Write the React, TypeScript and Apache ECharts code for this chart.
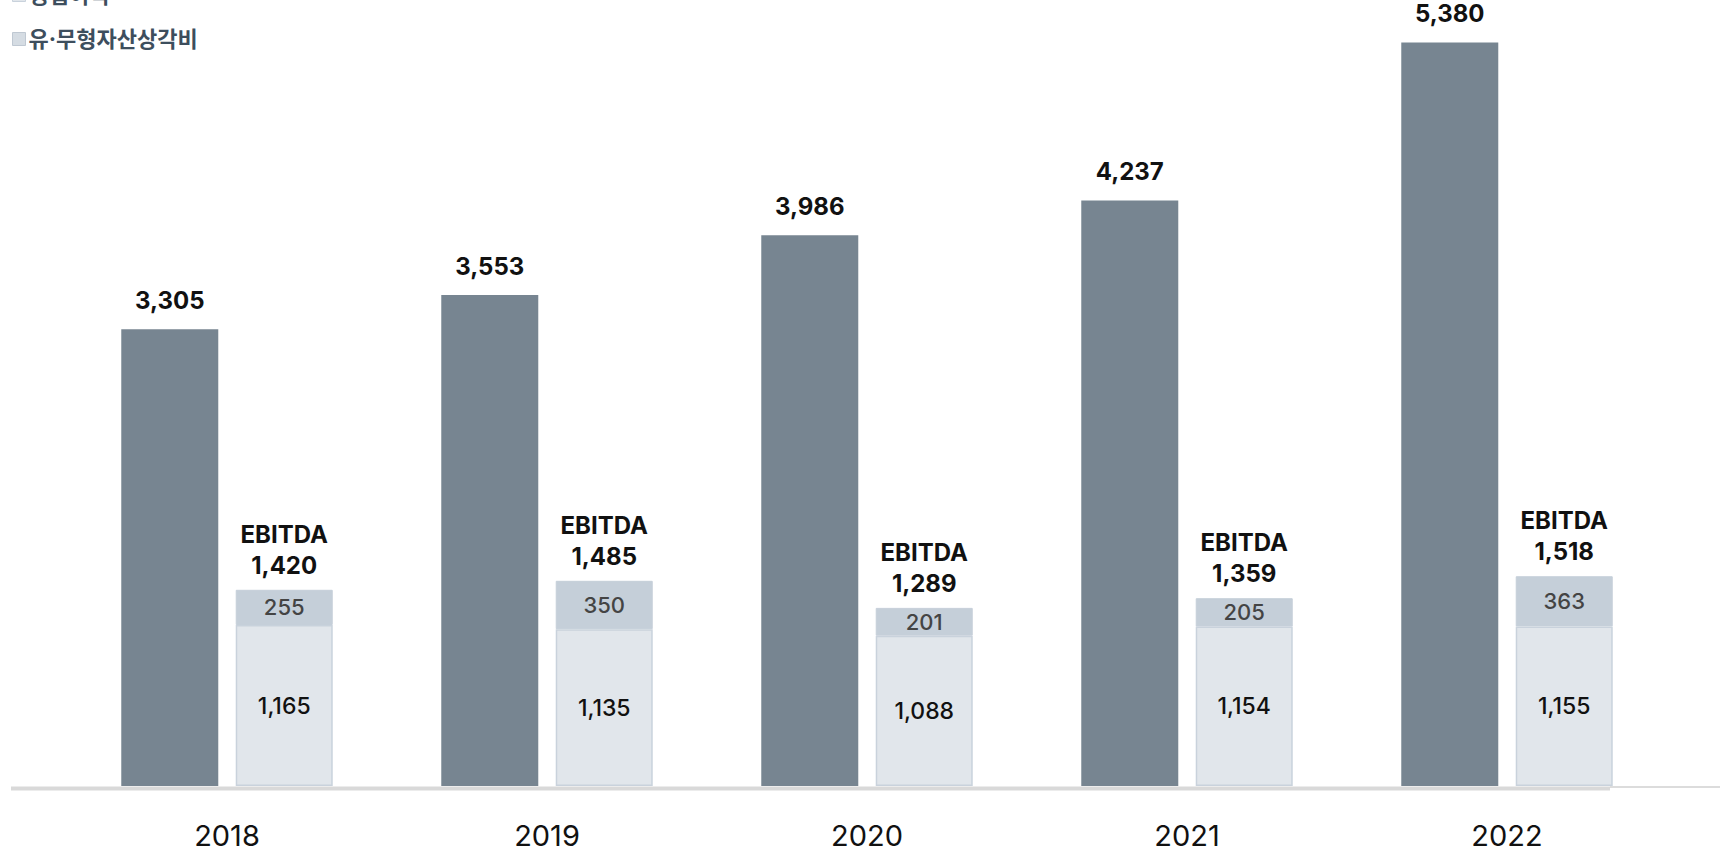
import React, { useEffect, useRef } from "react";
import * as echarts from "echarts";

const years = ["2018", "2019", "2020", "2021", "2022"];
const revenue = [3305, 3553, 3986, 4237, 5380];
const operatingProfit = [1165, 1135, 1088, 1154, 1155];
const depreciation = [255, 350, 201, 205, 363];
const ebitda = [1420, 1485, 1289, 1359, 1518];
const ebitdaAnchor = [0, 0, 0, 0, 0];

const FONT = "Inter, 'Noto Sans CJK KR', 'Noto Sans', sans-serif";
const fmt = (v: number) => v.toLocaleString("en-US");

export default function App() {
  const ref = useRef<HTMLDivElement>(null);
  useEffect(() => {
    if (!ref.current) return;
    const chart = echarts.init(ref.current, null, { renderer: "svg" });
    chart.setOption({
      animation: false,
      textStyle: { fontFamily: FONT },
      grid: { left: 67, right: 53, top: 26, bottom: 71, containLabel: false },
      legend: [
        {
          orient: "vertical",
          left: 12,
          top: -16,
          padding: 0,
          icon: "rect",
          itemWidth: 13,
          itemHeight: 13,
          selectedMode: false,
          data: [
            { name: "영업이익", itemStyle: { color: "#e1e6eb", borderColor: "#c9d2dc", borderWidth: 1 } },
          ],
          textStyle: { fontFamily: FONT, fontSize: 22, fontWeight: "bold", color: "#3d4e5d", padding: [0, 0, 0, -2] },
        },
        {
          orient: "vertical",
          left: 12,
          top: 28,
          padding: 0,
          icon: "rect",
          itemWidth: 13,
          itemHeight: 13,
          selectedMode: false,
          data: [
            { name: "유·무형자산상각비", itemStyle: { color: "#d5dce3", borderColor: "#bfc8d2", borderWidth: 1 } },
          ],
          textStyle: { fontFamily: FONT, fontSize: 22, fontWeight: "bold", color: "#3d4e5d", padding: [0, 0, 0, -2] },
        },
      ],
      xAxis: {
        type: "category",
        data: years,
        axisLine: { show: false },
        axisTick: { show: false },
        axisLabel: { margin: 35, fontSize: 29, color: "#111111", fontFamily: FONT },
      },
      yAxis: { type: "value", min: 0, max: 5500, show: false, splitLine: { show: false } },
      graphic: [
        {
          type: "line",
          z: 0,
          shape: { x1: 11, y1: 788.5, x2: 1610, y2: 788.5 },
          style: { stroke: "#d9d9d9", lineWidth: 4 },
        },
        {
          type: "line",
          z: 0,
          shape: { x1: 1610, y1: 787, x2: 1720, y2: 787 },
          style: { stroke: "#dcdcdc", lineWidth: 2 },
        },
      ],
      series: [
        {
          name: "매출액",
          type: "bar",
          data: revenue,
          barWidth: 97,
          barGap: "18%",
          itemStyle: { color: "#778591" },
          label: {
            show: true,
            position: "top",
            distance: 17,
            fontSize: 24,
            fontWeight: "bold",
            color: "#111111",
            fontFamily: FONT,
            formatter: (p: any) => fmt(p.value),
          },
        },
        {
          name: "영업이익",
          type: "bar",
          stack: "ebitda",
          data: operatingProfit,
          barWidth: 97,
          itemStyle: { color: "#e1e6eb", borderColor: "#c9d2dc", borderWidth: 1.5 },
          label: {
            show: true,
            position: "inside",
            fontSize: 23,
            fontWeight: 500,
            color: "#111111",
            fontFamily: FONT,
            formatter: (p: any) => fmt(p.value),
          },
        },
        {
          name: "유·무형자산상각비",
          type: "bar",
          stack: "ebitda",
          data: depreciation,
          barWidth: 97,
          itemStyle: { color: "#c5cfd9", borderColor: "#c5cfd9", borderWidth: 1 },
          label: {
            show: true,
            position: "inside",
            fontSize: 22,
            fontWeight: 500,
            color: "#444444",
            fontFamily: FONT,
            formatter: (p: any) => fmt(p.value),
          },
        },
        {
          name: "EBITDA",
          type: "bar",
          stack: "ebitda",
          data: ebitdaAnchor,
          barWidth: 97,
          itemStyle: { color: "transparent" },
          label: {
            show: true,
            position: "top",
            distance: 9,
            fontSize: 24,
            lineHeight: 31,
            fontWeight: "bold",
            color: "#111111",
            fontFamily: FONT,
            formatter: (p: any) => "EBITDA\n" + fmt(ebitda[p.dataIndex]),
          },
        },
      ],
    });
    return () => chart.dispose();
  }, []);
  return (
    <div
      ref={ref}
      style={{ position: "fixed", left: 0, top: 0, width: 1720, height: 857, background: "#ffffff" }}
    />
  );
}
